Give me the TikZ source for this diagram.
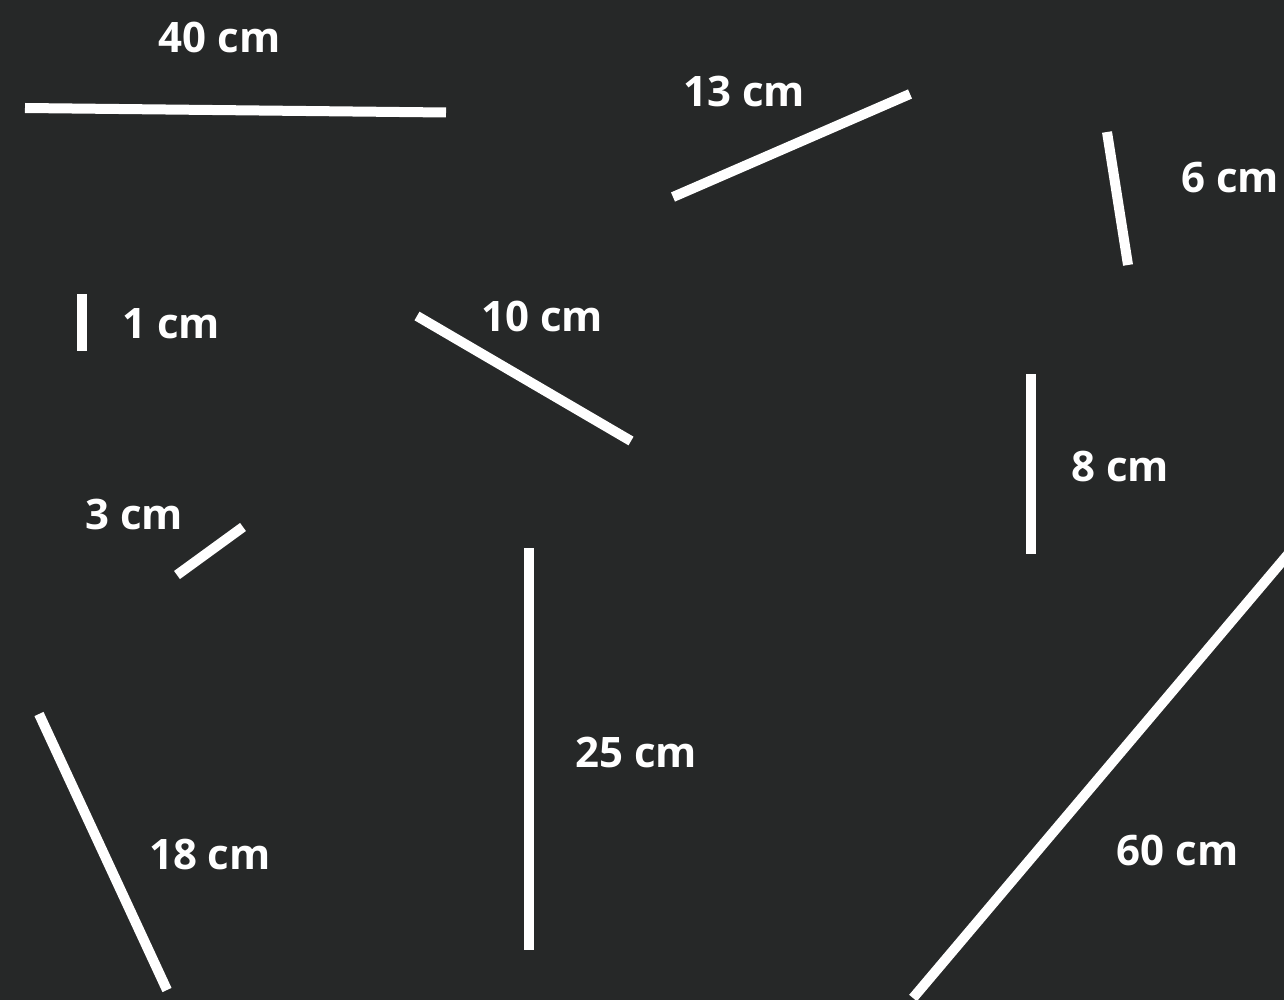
\documentclass[tikz,border=0pt]{standalone}
\usepackage{fontspec}
\setmainfont{Open Sans}
\definecolor{bg}{HTML}{262828}
\begin{document}
\begin{tikzpicture}[x=1pt,y=-1pt,
  seg/.style={draw=white,line width=10pt,line cap=butt},
  lbl/.style={text=white,font=\fontsize{42}{48}\selectfont\bfseries,inner sep=0pt}]
\clip (0,0) rectangle (1284,1000);
\fill[bg] (0,0) rectangle (1284,1000);
% segments
\coordinate (a1) at (25,108);   \coordinate (a2) at (446,112.5);
\coordinate (b1) at (673,197);  \coordinate (b2) at (910,94);
\coordinate (c1) at (1107,132); \coordinate (c2) at (1128,265);
\coordinate (d1) at (81.5,294); \coordinate (d2) at (81.5,351);
\coordinate (e1) at (417,316);  \coordinate (e2) at (631,441);
\coordinate (f1) at (1031,374); \coordinate (f2) at (1031,554);
\coordinate (g1) at (177,575);  \coordinate (g2) at (243,527);
\coordinate (h1) at (529,548);  \coordinate (h2) at (529,950);
\coordinate (i1) at (39,714);   \coordinate (i2) at (167,990);
\coordinate (j1) at (913,998);  \coordinate (j2) at (1290,552);
\draw[seg] (a1) -- (a2);
\draw[seg] (b1) -- (b2);
\draw[seg] (c1) -- (c2);
\draw[seg] (d1) -- (d2);
\draw[seg] (e1) -- (e2);
\draw[seg] (f1) -- (f2);
\draw[seg] (g1) -- (g2);
\draw[seg] (h1) -- (h2);
\draw[seg] (i1) -- (i2);
\draw[seg] (j1) -- (j2);
% labels
\node[lbl] (la) at (219.5,37) {40 cm};
\node[lbl] (lb) at (744,92) {13 cm};
\node[lbl] (lc) at (1230,177.5) {6 cm};
\node[lbl] (ld) at (171,323.5) {1 cm};
\node[lbl] (le) at (542,316) {10 cm};
\node[lbl] (lf) at (1120,467) {8 cm};
\node[lbl] (lg) at (134,514) {3 cm};
\node[lbl] (lh) at (636,752) {25 cm};
\node[lbl] (li) at (210,855) {18 cm};
\node[lbl] (lj) at (1177.5,850) {60 cm};
\end{tikzpicture}
\end{document}
